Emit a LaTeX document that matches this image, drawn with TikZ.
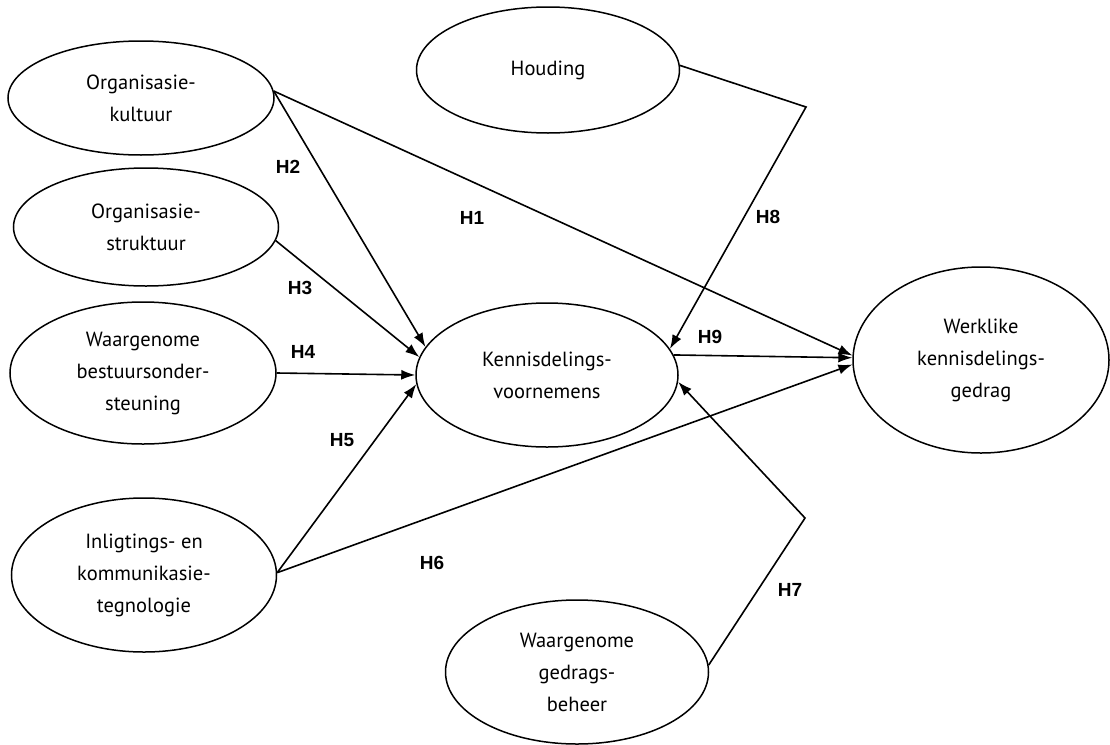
\documentclass[tikz,border=0pt]{standalone}
\usepackage{fontspec}
\setmainfont{PT Sans}
\newfontfamily\labfont{Liberation Sans}
\usetikzlibrary{shapes.geometric,arrows.meta}
\begin{document}
\begin{tikzpicture}[x=1pt,y=-1pt,
  latent/.style={draw,ellipse,line width=1.5pt,inner sep=0pt,align=center,
    font=\fontsize{20.5}{32}\selectfont},
  conn/.style={line width=1.6pt},
  arr/.style={conn,-{Latex[length=14pt,width=10pt]}},
  hlab/.style={font=\labfont\bfseries\fontsize{19}{20}\selectfont}]
\fill[white] (0,0) rectangle (1110,744);
\useasboundingbox (0,0) rectangle (1110,744);
% nodes
\node[latent,minimum width=266pt,minimum height=114pt] (kult) at (141,98) {Organisasie-\\kultuur};
\node[latent,minimum width=265pt,minimum height=118pt] (strk) at (146,227) {Organisasie-\\struktuur};
\node[latent,minimum width=266pt,minimum height=142pt] (waar) at (143,373) {Waargenome\\bestuursonder-\\steuning};
\node[latent,minimum width=265pt,minimum height=154pt] (inlg) at (144,575) {Inligtings- en\\kommunikasie-\\tegnologie};
\node[latent,minimum width=263pt,minimum height=126pt] (houd) at (548,70) {Houding};
\node[latent,minimum width=262pt,minimum height=144pt] (kenn) at (547,375) {Kennisdelings-\\voornemens};
\node[latent,minimum width=256pt,minimum height=186pt] (werk) at (981,360) {Werklike\\kennisdelings-\\gedrag};
\node[latent,minimum width=263pt,minimum height=144pt] (gedr) at (577,672) {Waargenome\\gedrags-\\beheer};
% corners
\coordinate (c8) at (806,107);
\coordinate (c7) at (805,518);
% connectors
\draw[arr] (kult.3) -- (werk.178);
\draw[arr] (kult.3) -- (kenn.167);
\draw[arr] (strk.354) -- (kenn.172);
\draw[arr] (waar.0) -- (kenn.180);
\draw[arr] (inlg.1) -- (kenn.184);
\draw[arr] (inlg.1) -- (werk.182);
\draw[arr] (kenn.9) -- (werk.179);
\draw[arr] (houd.2) -- (c8) -- (kenn.12);
\draw[arr] (gedr.3) -- (c7) -- (kenn.357);
% labels
\node[hlab] (l1) at (472,218) {H1};
\node[hlab] (l2) at (288,167) {H2};
\node[hlab] (l3) at (300,288) {H3};
\node[hlab] (l4) at (303,352) {H4};
\node[hlab] (l5) at (342,440) {H5};
\node[hlab] (l6) at (432,563) {H6};
\node[hlab] (l7) at (790,590) {H7};
\node[hlab] (l8) at (768,217) {H8};
\node[hlab] (l9) at (710,337) {H9};
\end{tikzpicture}
\end{document}
